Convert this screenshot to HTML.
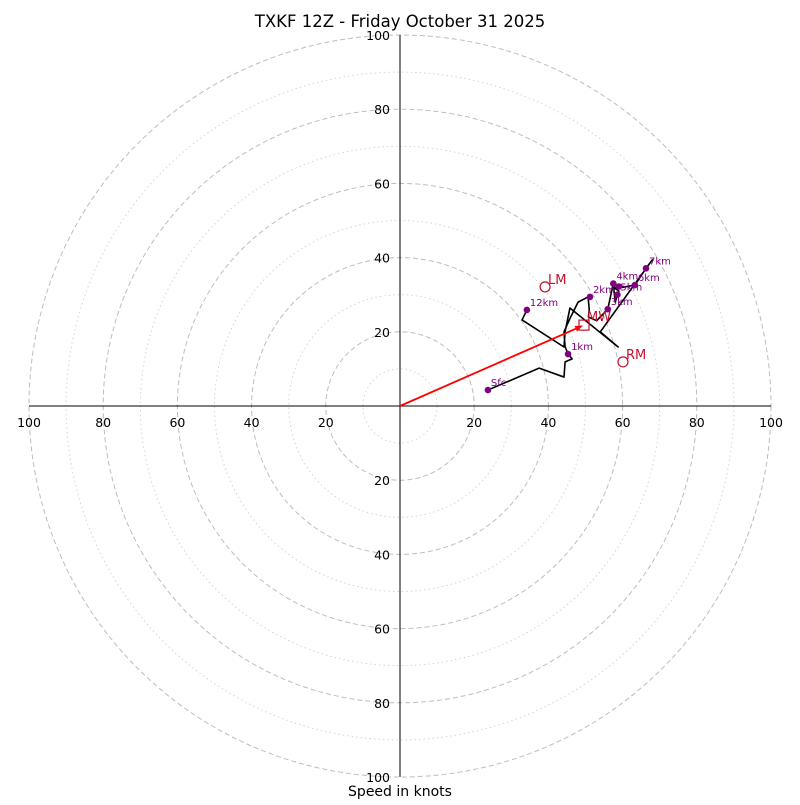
<!DOCTYPE html>
<html><head><meta charset="utf-8"><style>
body{margin:0;background:#fff}
svg text{font-family:"DejaVu Sans","Liberation Sans",sans-serif}
</style></head><body>
<svg id="chart" width="800" height="800" xmlns="http://www.w3.org/2000/svg">
<text x="400" y="27" text-anchor="middle" font-size="16.5">TXKF 12Z - Friday October 31 2025</text>
<text x="400" y="796" text-anchor="middle" font-size="14">Speed in knots</text>
<g id="grid"></g><g id="axes"></g><g id="trace"></g><g id="marks"></g>
</svg>
<script>
const ringValues=[10,20,30,40,50,60,70,80,90,100];
const tickValues=[20,40,60,80,100];
const traceU=[23.7,37.5,44.2,44.5,46.4,45.3,44.5,44.2,46,48,50.7,51,50.8,53,56,57.5,58,59,57.5,60,63.3,66.3,68,54,58.8,45.8,44.5,44.2,32.9,34.2];
const traceV=[4.3,10.2,7.8,11.9,12.7,14.0,16,20,24,28,29.4,26,24,23,26.1,33,28,31,32,32,32.6,37.1,39.4,20,15.9,26.4,20,15.9,23.2,25.9];
const levelNames=["Sfc","1km","2km","3km","4km","","5km","6km","7km","12km"];
const levelU=[23.7,45.3,51.2,56,57.5,59,58.6,63.3,66.3,34.2];
const levelV=[4.3,14.0,29.4,26.1,33.0,32.2,30.0,32.6,37.1,25.9];
const motionNames=["LM","RM"];
const motionU=[39.1,60.1];
const motionV=[32.1,11.9];
const meanWindU=[49.6];
const meanWindV=[21.8];

const cx=400,cy=406,k=3.71;
const sx=u=>cx+u*k, sy=v=>cy-v*k;
const NS="http://www.w3.org/2000/svg";
function mk(parent,tag,attrs,text){const e=document.createElementNS(NS,tag);for(const a in attrs)e.setAttribute(a,attrs[a]);if(text!==undefined)e.textContent=text;document.getElementById(parent).appendChild(e);return e;}

ringValues.forEach(r=>{
  const major=r%20===0;
  const c=mk('grid','circle',{cx:cx,cy:cy,r:r*k,fill:'none',stroke:major?'#bdbdbd':'#d4d4d4','stroke-width':1,'stroke-dasharray':major?'5,3':'1.5,3'});
  
  
});
let l=mk('axes','line',{x1:sx(-100),y1:cy,x2:sx(100),y2:cy,stroke:'#000','stroke-width':1});


l=mk('axes','line',{x1:cx,y1:sy(100),x2:cx,y2:sy(-100),stroke:'#000','stroke-width':1});


tickValues.forEach(t=>{
  [1,-1].forEach(s=>{
    let e=mk('axes','text',{x:sx(s*t),y:cy+21,'text-anchor':'middle','font-size':12.5},String(t));
    
    
    e=mk('axes','text',{x:cx-10,y:sy(s*t)+5,'text-anchor':'end','font-size':12.5},String(t));
    
    
  });
});
let p=mk('trace','polyline',{points:traceU.map((u,i)=>sx(u)+','+sy(traceV[i])).join(' '),fill:'none',stroke:'#000','stroke-width':1.6,'stroke-linejoin':'round'});



levelU.forEach((u,i)=>{
  const d=mk('marks','circle',{cx:sx(u),cy:sy(levelV[i]),r:3.3,fill:'#800080'});
  
  
  if(levelNames[i]){
    const t=mk('marks','text',{x:sx(u)+3,y:sy(levelV[i])-4,'font-size':10,fill:'#800080'},levelNames[i]);
    
    
  }
});
const mx=sx(meanWindU[0]),my=sy(meanWindV[0]);
const ang=Math.atan2(my-cy,mx-cx),ex=mx-6*Math.cos(ang),ey=my-6*Math.sin(ang);
let a=mk('marks','line',{x1:cx,y1:cy,x2:ex,y2:ey,stroke:'#ff0000','stroke-width':1.8});


const hx=ex,hy=ey;
a=mk('marks','polygon',{points:[hx+5*Math.cos(ang),hy+5*Math.sin(ang),hx-3*Math.cos(ang)-3*Math.sin(ang),hy-3*Math.sin(ang)+3*Math.cos(ang),hx-3*Math.cos(ang)+3*Math.sin(ang),hy-3*Math.sin(ang)-3*Math.cos(ang)].join(','),fill:'#ff0000'});


let s=mk('marks','rect',{x:mx-5,y:my-5,width:10,height:10,fill:'none',stroke:'#c8102e','stroke-width':1.2});


s=mk('marks','text',{x:mx+3,y:my-4,'font-size':13,fill:'#c8102e'},'MW');


motionU.forEach((u,i)=>{
  const c=mk('marks','circle',{cx:sx(u),cy:sy(motionV[i]),r:5,fill:'#fff',stroke:'#c8102e','stroke-width':1.2});
  
  
  const t=mk('marks','text',{x:sx(u)+3,y:sy(motionV[i])-3,'font-size':13,fill:'#c8102e'},motionNames[i]);
  
  
});
</script>
</body></html>
